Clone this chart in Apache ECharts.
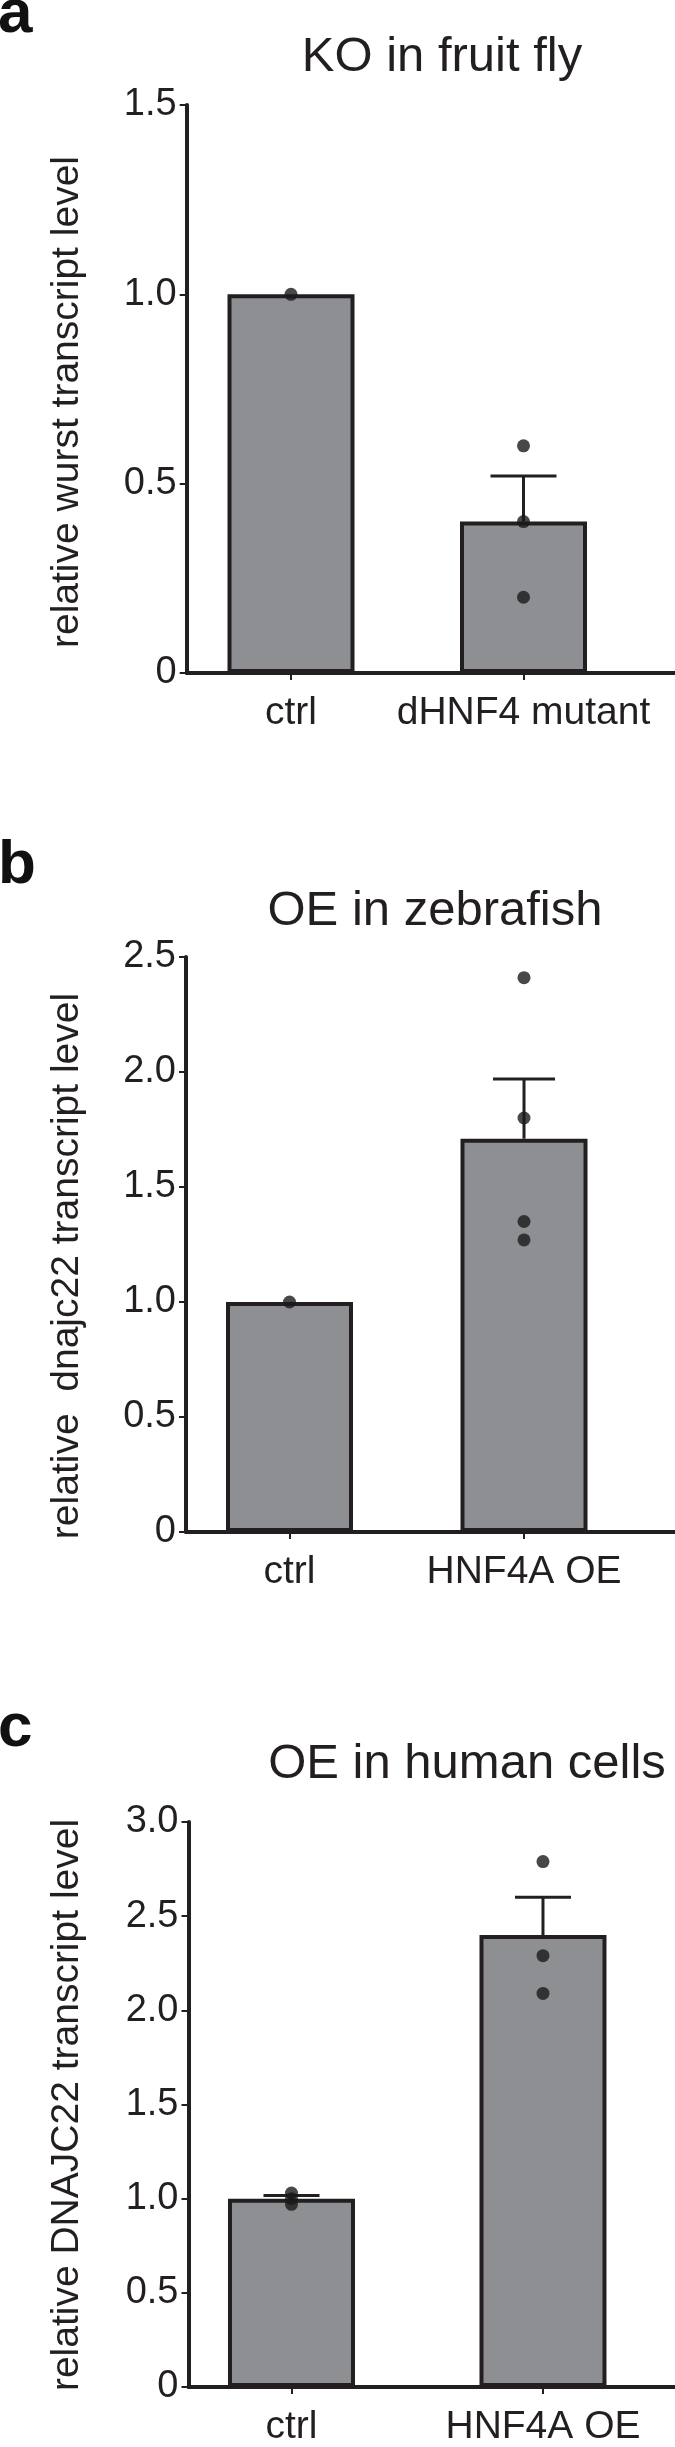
<!DOCTYPE html>
<html><head><meta charset="utf-8">
<script src="https://cdn.jsdelivr.net/npm/echarts@6/dist/echarts.min.js"></script>
<style>html,body{margin:0;padding:0;background:#fff}#c{width:675px;height:2447px}</style>
</head><body><div id="c"></div>
<script>
// ---- data ----
const panelLetters = ['a', 'b', 'c'];
const titles = ['KO in fruit fly', 'OE in zebrafish', 'OE in human cells'];
const yNames = ['relative wurst transcript level', 'relative  dnajc22 transcript level', 'relative DNAJC22 transcript level'];
const catsA = ['ctrl', 'dHNF4 mutant'];
const catsB = ['ctrl', 'HNF4A OE'];
const catsC = ['ctrl', 'HNF4A OE'];
const meansA = [1.0, 0.40];
const errTopA = [null, 0.52];
const pointsA = [[1.0], [0.60, 0.40, 0.20]];
const meansB = [1.0, 1.71];
const errTopB = [null, 1.97];
const pointsB = [[1.0], [2.41, 1.80, 1.35, 1.27]];
const meansC = [1.0, 2.40];
const errTopC = [1.017, 2.60];
const pointsC = [[1.03, 1.00, 0.97], [2.79, 2.29, 2.09]];
const yMaxes = [1.5, 2.5, 3.0];
const yInterval = 0.5;

// ---- layout / style ----
const FONT = "'Liberation Sans', Arial, Helvetica, sans-serif";
const INK = '#231f20';
const FILL = '#8e8f93';
const layout = [
  {left: 186.7, top: 105, height: 568, xMin: -0.4486, xMax: 1.6516, capW: 66, letterY: 36, titleX: 442, titleY: 74, nameX: 67.5, nameY: 402},
  {left: 186, top: 957, height: 575, xMin: -0.4414, xMax: 1.6439, capW: 62, letterY: 887, titleX: 435, titleY: 928, nameX: 67.5, nameY: 1266},
  {left: 188.5, top: 1822, height: 569.6, xMin: -0.4095, xMax: 1.5249, capW: 56, letterY: 1750, titleX: 467, titleY: 1781, nameX: 67.5, nameY: 2105}
];
const panels = [
  {cats: catsA, means: meansA, errTop: errTopA, points: pointsA},
  {cats: catsB, means: meansB, errTop: errTopB, points: pointsB},
  {cats: catsC, means: meansC, errTop: errTopC, points: pointsC}
];
const MID = 0.3465; // baseline offset from text middle (fraction of font size)
const TITLE_FS = 49, LETTER_FS = 62, NAME_FS = 39, TICK_FS = 38, CAT_FS = 39;

const grid = [], xAxis = [], yAxis = [], series = [], graphic = [];
panels.forEach((p, i) => {
  const L = layout[i];
  grid.push({left: L.left, top: L.top, height: L.height, right: 0, containLabel: false});
  xAxis.push({
    type: 'value', gridIndex: i, min: L.xMin, max: L.xMax,
    splitLine: {show: false},
    axisLine: {show: true, onZero: false, lineStyle: {color: INK, width: 4}},
    axisTick: {show: true, customValues: [0, 1], length: 7, lineStyle: {color: INK, width: 2}},
    axisLabel: {show: true, customValues: [0, 1], margin: 21, fontFamily: FONT, fontSize: CAT_FS, color: INK,
      formatter: v => p.cats[Math.round(v)]}
  });
  yAxis.push({
    type: 'value', gridIndex: i, min: 0, max: yMaxes[i], interval: yInterval,
    splitLine: {show: false},
    axisLine: {show: true, onZero: false, lineStyle: {color: INK, width: 4}},
    axisTick: {show: true, length: 7, lineStyle: {color: INK, width: 2}},
    axisLabel: {margin: 10, fontFamily: FONT, fontSize: TICK_FS, color: INK,
      formatter: v => v === 0 ? '0' : v.toFixed(1)}
  });
  series.push({
    type: 'bar', xAxisIndex: i, yAxisIndex: i, barWidth: 127, z: 2,
    itemStyle: {color: FILL, borderColor: INK, borderWidth: 4},
    data: p.means.map((v, j) => [j, v])
  });
  const capW = L.capW;
  series.push({
    type: 'custom', xAxisIndex: i, yAxisIndex: i, z: 3,
    encode: {x: 0, y: [1, 2]},
    data: p.errTop.map((t, j) => t == null ? null : [j, p.means[j], t]).filter(d => d),
    renderItem: (params, api) => {
      const a = api.coord([api.value(0), api.value(1)]);
      const b = api.coord([api.value(0), api.value(2)]);
      const st = {stroke: INK, lineWidth: 3};
      return {type: 'group', children: [
        {type: 'line', shape: {x1: a[0], y1: a[1], x2: b[0], y2: b[1]}, style: st},
        {type: 'line', shape: {x1: b[0] - capW / 2, y1: b[1], x2: b[0] + capW / 2, y2: b[1]}, style: st}
      ]};
    }
  });
  const pts = [];
  p.points.forEach((arr, j) => arr.forEach(v => pts.push([j, v])));
  series.push({
    type: 'scatter', xAxisIndex: i, yAxisIndex: i, z: 4, symbol: 'circle', symbolSize: 13,
    itemStyle: {color: '#1a1a1a'}, data: pts
  });
  graphic.push({type: 'text', x: -2, y: L.letterY - MID * LETTER_FS,
    style: {text: panelLetters[i], font: `bold ${LETTER_FS}px ${FONT}`, fill: '#111', textAlign: 'left', textVerticalAlign: 'middle'}});
  graphic.push({type: 'text', x: L.titleX, y: L.titleY - MID * TITLE_FS,
    style: {text: titles[i], font: `${TITLE_FS}px ${FONT}`, fill: INK, textAlign: 'center', textVerticalAlign: 'middle'}});
  graphic.push({type: 'text', x: L.nameX, y: L.nameY, rotation: Math.PI / 2,
    style: {text: yNames[i], font: `${NAME_FS}px ${FONT}`, fill: INK, textAlign: 'center', textVerticalAlign: 'middle'}});
});

const chart = echarts.init(document.getElementById('c'), null, {renderer: 'canvas'});
chart.setOption({animation: false, backgroundColor: '#fff', grid, xAxis, yAxis, series, graphic});
</script>
</body></html>
